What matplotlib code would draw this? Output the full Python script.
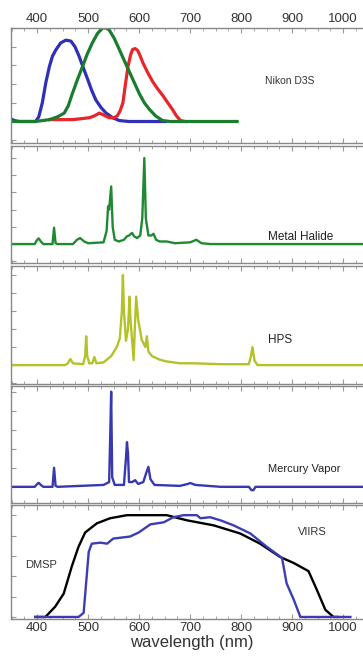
# Spectral curves: camera sensitivity, lamp spectra, satellite bands

import matplotlib.pyplot as plt
from matplotlib.ticker import MultipleLocator, NullFormatter

plt.rcParams["font.family"] = ["Liberation Sans", "DejaVu Sans"]

# Nikon D3S channel sensitivities (wavelength nm, relative)
nikon_blue_wl = [348, 355, 365, 397, 403, 410, 417, 424, 430, 437, 446, 456, 466, 474, 482,
                 490, 499, 507, 515, 525, 535, 548, 561, 580, 652]
nikon_blue = [0.03, 0.01, 0.0, 0.0, 0.05, 0.2, 0.42, 0.59, 0.7, 0.77, 0.84, 0.87, 0.86, 0.8, 0.70,
              0.58, 0.45, 0.33, 0.23, 0.15, 0.09, 0.04, 0.01, 0.0, 0.0]
nikon_green_wl = [348, 397, 410, 424, 440, 453, 461, 469, 479, 489, 498, 508, 518, 528, 535,
                  541, 551, 561, 570, 580, 590, 600, 610, 620, 632, 646, 660, 792]
nikon_green = [0.0, 0.0, 0.01, 0.02, 0.05, 0.09, 0.17, 0.3, 0.45, 0.59, 0.72, 0.84, 0.94, 1.0, 1.0,
               0.98, 0.89, 0.77, 0.66, 0.54, 0.42, 0.3, 0.2, 0.13, 0.06, 0.01, 0.0, 0.0]
nikon_red_wl = [424, 470, 502, 512, 522, 530, 541, 550, 557, 563, 568, 573, 578, 583, 587,
                592, 597, 602, 607, 616, 626, 636, 646, 656, 665, 673, 681, 690]
nikon_red = [0.02, 0.02, 0.04, 0.06, 0.09, 0.07, 0.04, 0.04, 0.06, 0.12, 0.2, 0.4, 0.59, 0.71, 0.77,
             0.78, 0.76, 0.70, 0.63, 0.53, 0.43, 0.35, 0.28, 0.2, 0.13, 0.06, 0.01, 0.0]

# Metal halide lamp
mh_wl = [348, 395, 400, 403, 407, 412, 430, 433, 436, 440, 470, 478, 484, 492, 500,
         530, 536, 539, 541, 545, 548, 552, 560, 570, 576, 580, 586, 590, 596, 602,
         606, 610, 613, 618, 624, 628, 633, 640, 654, 670, 700, 712, 722, 740, 1060]
mh = [0.0, 0.0, 0.05, 0.066, 0.03, 0.0, 0.0, 0.19, 0.01, 0.0, 0.0, 0.05, 0.07, 0.03, 0.01,
      0.02, 0.15, 0.44, 0.40, 0.67, 0.2, 0.05, 0.03, 0.05, 0.09, 0.1, 0.13, 0.09, 0.07, 0.1,
      0.3, 1.0, 0.3, 0.1, 0.1, 0.12, 0.05, 0.03, 0.03, 0.01, 0.02, 0.05, 0.01, 0.0, 0.0]

# High pressure sodium lamp
hps_wl = [348, 455, 460, 465, 470, 490, 494, 496, 498, 502, 508, 512, 516, 530, 545,
          556, 562, 566, 568, 570, 574, 578, 581, 583, 589, 592, 594, 598, 605, 612,
          615, 618, 625, 640, 654, 680, 706, 760, 815, 819, 822, 826, 832, 1060]
hps = [0.0, 0.0, 0.02, 0.067, 0.02, 0.01, 0.1, 0.32, 0.1, 0.02, 0.02, 0.09, 0.02, 0.03, 0.1,
       0.2, 0.3, 0.6, 1.0, 0.6, 0.27, 0.4, 0.76, 0.5, 0.056, 0.5, 0.76, 0.5, 0.28, 0.2,
       0.32, 0.15, 0.1, 0.06, 0.04, 0.02, 0.02, 0.01, 0.01, 0.1, 0.2, 0.05, 0.0, 0.0]

# Mercury vapor lamp
mv_wl = [348, 395, 400, 403, 407, 412, 430, 433, 436, 440, 530, 541, 543, 545, 547,
         552, 570, 574, 576, 578, 580, 586, 592, 598, 608, 614, 618, 622, 630, 680,
         695, 700, 710, 760, 815, 820, 824, 828, 1060]
mv = [0.0, 0.0, 0.03, 0.042, 0.02, 0.0, 0.0, 0.2, 0.01, 0.0, 0.02, 0.05, 0.5, 1.0, 0.1,
      0.02, 0.02, 0.3, 0.47, 0.35, 0.05, 0.05, 0.07, 0.03, 0.05, 0.15, 0.21, 0.08, 0.02, 0.01,
      0.03, 0.04, 0.02, 0.0, 0.0, -0.035, -0.035, 0.0, 0.0]

# Satellite band responses
dmsp_wl = [396, 416, 435, 452, 468, 481, 494, 517, 543, 576, 608, 654, 693, 746, 798,
           837, 876, 903, 932, 948, 965, 981, 990]
dmsp = [0.0, 0.0, 0.1, 0.23, 0.5, 0.69, 0.83, 0.92, 0.97, 1.0, 1.0, 1.0, 0.95, 0.9, 0.82,
        0.72, 0.59, 0.53, 0.45, 0.27, 0.07, 0.0, 0.0]
viirs_wl = [396, 481, 491, 501, 507, 524, 537, 549, 582, 599, 622, 648, 667, 687, 713,
            720, 739, 759, 785, 818, 850, 880, 889, 903, 916, 1014]
viirs = [0.0, 0.0, 0.04, 0.64, 0.72, 0.73, 0.72, 0.77, 0.79, 0.83, 0.91, 0.93, 0.98, 1.0, 1.0,
         0.97, 0.98, 0.95, 0.9, 0.82, 0.69, 0.58, 0.33, 0.17, 0.0, 0.0]

W, H = 363, 664
fig = plt.figure(figsize=(W / 100, H / 100), dpi=100)

# panel pixel extents (top, bottom) and y-limits
panels = [(28, 143, (-0.23, 1.0)),
          (146, 263, (-0.22, 1.14)),
          (266, 384, (-0.21, 1.1)),
          (386, 503, (-0.17, 1.06)),
          (505, 619, (-0.02, 1.1))]
xlim = (348, 1060)
left_px = 10.7
width_px = (xlim[1] - xlim[0]) * 0.51

axes = []
for top, bot, ylim in panels:
    ax = fig.add_axes([left_px / W, 1 - bot / H, width_px / W, (bot - top) / H])
    ax.set_xlim(*xlim)
    ax.set_ylim(*ylim)
    ax.xaxis.set_major_locator(MultipleLocator(100))
    ax.xaxis.set_minor_locator(MultipleLocator(25))
    ax.yaxis.set_major_locator(MultipleLocator(0.2))
    ax.yaxis.set_major_formatter(NullFormatter())
    ax.tick_params(which="both", direction="in", top=True, right=True, color="#999999",
                   labelsize=9.5, labelcolor="#333333")
    ax.tick_params(which="major", length=3.5, width=0.8)
    ax.tick_params(which="minor", length=2, width=0.6)
    for s in ax.spines.values():
        s.set_color("#888888")
        s.set_linewidth(1.0)
    ax.tick_params(labelbottom=False)
    axes.append(ax)

ax1, ax2, ax3, ax4, ax5 = axes
ax1.tick_params(labeltop=True, pad=2)
ax5.tick_params(labelbottom=True, pad=2)
ax5.set_xlabel("wavelength (nm)", fontsize=12, color="#333333", labelpad=1)

ax1.plot(nikon_blue_wl, nikon_blue, color="#2f2fb8", lw=2.3, solid_joinstyle="round")
ax1.plot(nikon_red_wl, nikon_red, color="#e8262a", lw=2.3, solid_joinstyle="round")
ax1.plot(nikon_green_wl, nikon_green, color="#1a7d2e", lw=2.3, solid_joinstyle="round")
ax1.text(847, 0.43, "Nikon D3S", fontsize=7.5, color="#333333", va="center")

ax2.plot(mh_wl, mh, color="#1f8a30", lw=1.7)
ax2.text(853, 0.085, "Metal Halide", fontsize=8.5, color="#222222", va="center")

ax3.plot(hps_wl, hps, color="#b4c22a", lw=1.7)
ax3.text(853, 0.28, "HPS", fontsize=8.5, color="#222222", va="center")

ax4.plot(mv_wl, mv, color="#3838b0", lw=1.7)
ax4.text(853, 0.19, "Mercury Vapor", fontsize=8, color="#222222", va="center")

ax5.plot(dmsp_wl, dmsp, color="black", lw=1.7)
ax5.plot(viirs_wl, viirs, color="#3c3cb4", lw=1.7)
ax5.text(912, 0.83, "VIIRS", fontsize=8, color="#333333", va="center")
ax5.text(376, 0.51, "DMSP", fontsize=8, color="#333333", va="center")

fig.savefig("out.png", dpi=100)
